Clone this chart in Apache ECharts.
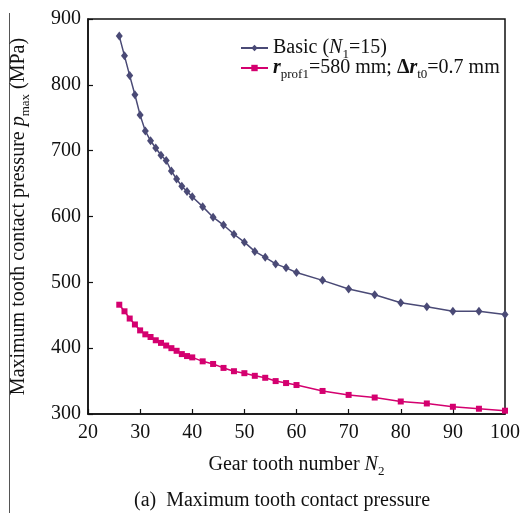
<!DOCTYPE html>
<html>
<head>
<meta charset="utf-8">
<script src="https://cdn.jsdelivr.net/npm/echarts@6/dist/echarts.min.js"></script>
<style>
html,body{margin:0;padding:0;background:#fff;}
#c{width:523px;height:513px;}
</style>
</head>
<body>
<div id="c"></div>
<script>
const xBasic = [26,27,28,29,30,31,32,33,34,35,36,37,38,39,40,42,44,46,48,50,52,54,56,58,60,65,70,75,80,85,90,95,100];
const basicValues = [874,844,814,785,754,730,715,704,693,685,669,657,646,638,630,615,599,587,573,561,547,538,528,522,515,503,490,481,469,463,456,456,451];
const xMod = [26,27,28,29,30,31,32,33,34,35,36,37,38,39,40,42,44,46,48,50,52,54,56,58,60,65,70,75,80,85,90,95,100];
const modValues = [466,456,445,436,427,421,417,412,408,404,400,396,391,388,386,380,376,370,365,362,358,355,350,347,344,335,329,325,319,316,311,308,305];
const xTicks = [20,30,40,50,60,70,80,90,100];
const yTicks = [300,400,500,600,700,800,900];
const seriesNames = ['basic','mod'];

const FONT = 'Liberation Serif';
const FS = 20;
const baseRich = {
  n: {fontFamily: FONT, fontSize: FS, color: '#111', lineHeight: 26},
  i: {fontFamily: FONT, fontSize: FS, fontStyle: 'italic', color: '#111', lineHeight: 26},
  bi: {fontFamily: FONT, fontSize: FS, fontStyle: 'italic', fontWeight: 'bold', color: '#111', lineHeight: 26},
  b: {fontFamily: FONT, fontSize: FS, fontWeight: 'bold', color: '#111', lineHeight: 26},
  s: {fontFamily: FONT, fontSize: 13, color: '#111', lineHeight: 13, verticalAlign: 'bottom'}
};

const chart = echarts.init(document.getElementById('c'), null, {renderer: 'canvas'});
chart.setOption({
  backgroundColor: '#fff',
  animation: false,
  title: {
    text: '(a)  Maximum tooth contact pressure',
    left: 134,
    top: 491,
    padding: 0,
    textStyle: {fontFamily: FONT, fontSize: FS, fontWeight: 'normal', color: '#111'}
  },
  grid: {left: 88, right: 18, top: 19, bottom: 99, show: true, borderColor: '#111', borderWidth: 1.5, backgroundColor: 'transparent'},
  legend: {
    orient: 'vertical',
    left: 240,
    top: 38,
    padding: 0,
    itemWidth: 27,
    itemHeight: 8,
    itemGap: -3,
    data: seriesNames,
    formatter: function (name) {
      if (name === 'basic') return '{n|Basic (}{i|N}{s|1}{n|=15)}';
      return '{bi|r}{s|prof1}{n|=580 mm; }{b|Δ}{bi|r}{s|t0}{n|=0.7 mm}';
    },
    textStyle: {fontFamily: FONT, fontSize: FS, color: '#111', rich: baseRich}
  },
  xAxis: {
    type: 'value',
    min: 20, max: 100, interval: 10,
    name: '{n|Gear tooth number }{i|N}{s|2}',
    nameLocation: 'middle',
    nameGap: 38,
    nameTextStyle: {rich: baseRich},
    axisLine: {lineStyle: {color: '#111', width: 1.5}},
    axisTick: {inside: true, length: 5, lineStyle: {color: '#111', width: 1.2}},
    axisLabel: {
      margin: 9, fontFamily: FONT, fontSize: FS, color: '#111',
      formatter: function (v) { return xTicks.indexOf(v) >= 0 ? String(v) : ''; }
    },
    splitLine: {show: false}
  },
  yAxis: {
    type: 'value',
    min: 300, max: 900, interval: 100,
    name: '{n|Maximum tooth contact pressure }{i|p}{s|max}{n| (MPa)}',
    nameLocation: 'middle',
    nameRotate: 90,
    nameGap: 56,
    nameTextStyle: {rich: baseRich},
    axisLine: {show: true, lineStyle: {color: '#111', width: 1.5}},
    axisTick: {show: true, inside: true, length: 5, lineStyle: {color: '#111', width: 1.2}},
    axisLabel: {
      margin: 7, fontFamily: FONT, fontSize: FS, color: '#111',
      formatter: function (v) { return yTicks.indexOf(v) >= 0 ? String(v) : ''; }
    },
    splitLine: {show: false}
  },
  graphic: [{
    type: 'line',
    shape: {x1: 9.5, y1: 13, x2: 9.5, y2: 513},
    style: {stroke: '#555', lineWidth: 1}
  }],
  series: [
    {
      name: 'basic',
      type: 'line',
      data: xBasic.map((x, k) => [x, basicValues[k]]),
      symbol: 'diamond',
      symbolSize: [7, 9],
      itemStyle: {color: '#4a4a76'},
      lineStyle: {color: '#4a4a76', width: 1.5}
    },
    {
      name: 'mod',
      type: 'line',
      data: xMod.map((x, k) => [x, modValues[k]]),
      symbol: 'rect',
      symbolSize: 6,
      itemStyle: {color: '#d4006f'},
      lineStyle: {color: '#d4006f', width: 1.5}
    }
  ]
});
</script>
</body>
</html>
